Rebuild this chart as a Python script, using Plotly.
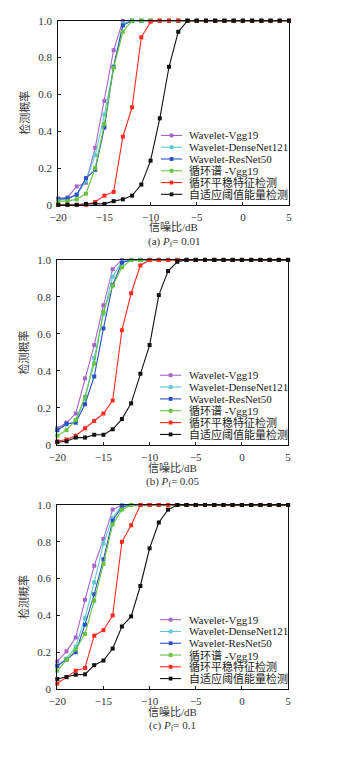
import plotly.graph_objects as go

snr = list(range(-20, 6))

series_names = ["Wavelet-Vgg19", "Wavelet-DenseNet121", "Wavelet-ResNet50",
                "循环谱 -Vgg19", "循环平稳特征检测", "自适应阈值能量检测"]
colors = ["#a865c9", "#5cc9d3", "#2a50c4", "#66c43e", "#ff2a1e", "#111111"]

ones = lambda n: [1.0] * n

# (a) Pf = 0.01
a_vgg = [0.035, 0.04, 0.10, 0.12, 0.31, 0.565, 0.84, 1.0] + ones(18)
a_dense = [0.03, 0.03, 0.055, 0.13, 0.27, 0.49, 0.75, 0.985, 1.0] + ones(17)
a_resnet = [0.03, 0.035, 0.055, 0.145, 0.19, 0.42, 0.75, 0.975, 1.0] + ones(17)
a_cyc = [0.02, 0.02, 0.03, 0.06, 0.20, 0.44, 0.745, 0.94, 1.0] + ones(17)
a_csd = [0.0, 0.0, 0.0, 0.0, 0.015, 0.05, 0.07, 0.37, 0.53, 0.91, 0.995, 1.0] + ones(14)
a_energy = [0.0, 0.0, 0.0, 0.005, 0.005, 0.005, 0.02, 0.03, 0.05, 0.11, 0.24, 0.47,
            0.75, 0.94, 1.0] + ones(11)

# (b) Pf = 0.05
b_vgg = [0.09, 0.12, 0.17, 0.36, 0.54, 0.755, 0.95, 1.0] + ones(18)
b_dense = [0.08, 0.11, 0.13, 0.25, 0.47, 0.71, 0.91, 0.99, 1.0] + ones(17)
b_resnet = [0.08, 0.115, 0.12, 0.22, 0.37, 0.63, 0.865, 0.985, 1.0] + ones(17)
b_cyc = [0.05, 0.08, 0.135, 0.26, 0.44, 0.72, 0.86, 0.96, 1.0] + ones(17)
b_csd = [0.02, 0.03, 0.05, 0.09, 0.13, 0.17, 0.24, 0.62, 0.82, 0.97, 1.0] + ones(15)
b_energy = [0.015, 0.02, 0.04, 0.04, 0.055, 0.055, 0.085, 0.14, 0.225, 0.385, 0.54,
            0.81, 0.94, 0.99, 1.0] + ones(11)

# (c) Pf = 0.1
c_vgg = [0.15, 0.205, 0.28, 0.485, 0.67, 0.815, 0.975, 1.0] + ones(18)
c_dense = [0.13, 0.165, 0.23, 0.385, 0.58, 0.79, 0.93, 1.0] + ones(18)
c_resnet = [0.125, 0.16, 0.20, 0.35, 0.515, 0.705, 0.915, 0.99, 1.0] + ones(17)
c_cyc = [0.10, 0.16, 0.215, 0.30, 0.48, 0.68, 0.895, 0.975, 1.0] + ones(17)
c_csd = [0.03, 0.065, 0.10, 0.115, 0.29, 0.32, 0.40, 0.80, 0.89, 1.0] + ones(16)
c_energy = [0.055, 0.065, 0.078, 0.08, 0.13, 0.155, 0.22, 0.34, 0.395, 0.56, 0.765,
            0.905, 0.975, 1.0] + ones(12)

panels = [
    ([a_vgg, a_dense, a_resnet, a_cyc, a_csd, a_energy], "(a) <i>P</i><sub>f</sub>= 0.01"),
    ([b_vgg, b_dense, b_resnet, b_cyc, b_csd, b_energy], "(b) <i>P</i><sub>f</sub>= 0.05"),
    ([c_vgg, c_dense, c_resnet, c_cyc, c_csd, c_energy], "(c) <i>P</i><sub>f</sub>= 0.1"),
]

x_ticks = [-20, -15, -10, -5, 0, 5]
y_ticks = [0, 0.2, 0.4, 0.6, 0.8, 1.0]
y_tick_text = ["0", "0.2", "0.4", "0.6", "0.8", "1.0"]

W, H = 349, 762
FONT = "Liberation Serif, Times New Roman, Noto Sans CJK SC, serif"

# pixel layout of each panel: (left, right, top, bottom)
boxes = [(51, 290, 15, 202), (50, 289, 258, 446), (50, 289, 507, 694)]

fig = go.Figure()
layout = dict(
    width=W, height=H,
    margin=dict(l=0, r=0, t=0, b=0),
    paper_bgcolor="white", plot_bgcolor="white",
    showlegend=False,
    font=dict(family=FONT, size=11, color="#222"),
)
annotations = []
shapes = []

for p, (data, caption) in enumerate(panels):
    k = "" if p == 0 else str(p + 1)
    L, R, T, B = boxes[p]
    xd = [L / W, R / W]
    yd = [1 - B / H, 1 - T / H]
    for name, col, ys in zip(series_names, colors, data):
        fig.add_trace(go.Scatter(
            x=snr, y=ys, name=name, mode="lines+markers",
            line=dict(color=col, width=1.1),
            marker=dict(symbol="square", size=4, color=col),
            cliponaxis=False,
            xaxis="x" + k, yaxis="y" + k,
        ))
    layout["xaxis" + k] = dict(
        domain=xd, anchor="y" + k, range=[-20, 5],
        tickvals=x_ticks, ticks="inside", ticklen=3, tickcolor="#222",
        ticklabelstandoff=2,
        showline=True, linecolor="#111", linewidth=1, mirror=True,
        showgrid=False, zeroline=False,
        tickfont=dict(family=FONT, size=11, color="#333"),
    )
    layout["yaxis" + k] = dict(
        domain=yd, anchor="x" + k, range=[0, 1],
        tickvals=y_ticks, ticktext=y_tick_text, ticks="inside", ticklen=3,
        tickcolor="#222", ticklabelstandoff=3,
        showline=True, linecolor="#111", linewidth=1, mirror=True,
        showgrid=False, zeroline=False,
        tickfont=dict(family=FONT, size=11, color="#333"),
        title=dict(text="检测概率", font=dict(family=FONT, size=11, color="#333"),
                   standoff=6),
    )
    # x-axis title and caption below the axis
    annotations.append(dict(
        text="信噪比/dB", xref="paper", yref="paper",
        x=(L + R) / 2 / W, y=1 - (B + 23) / H,
        xanchor="center", yanchor="middle", showarrow=False,
        font=dict(family=FONT, size=11, color="#333"),
    ))
    annotations.append(dict(
        text=caption, xref="paper", yref="paper",
        x=(L + R) / 2 / W, y=1 - (B + 37.5) / H,
        xanchor="center", yanchor="middle", showarrow=False,
        font=dict(family=FONT, size=11, color="#333"),
    ))
    # compact legend inside the plot area
    xr = "x" + k + " domain"
    yr = "y" + k + " domain"
    for i, (name, col) in enumerate(zip(series_names, colors)):
        yy = 0.377 - i * 0.064
        shapes.append(dict(type="line", xref=xr, yref=yr, x0=0.445, x1=0.537,
                           y0=yy, y1=yy, line=dict(color=col, width=1.1)))
        shapes.append(dict(type="rect", xref=xr, yref=yr, x0=0.491 - 0.008,
                           x1=0.491 + 0.008, y0=yy - 0.0105, y1=yy + 0.0105,
                           line=dict(width=0), fillcolor=col))
        annotations.append(dict(
            text=name, xref=xr, yref=yr, x=0.56, y=yy,
            xanchor="left", yanchor="middle", showarrow=False,
            font=dict(family=FONT, size=11, color="#222"),
        ))

layout["annotations"] = annotations
layout["shapes"] = shapes
fig.update_layout(**layout)
fig.write_html("out.html")
